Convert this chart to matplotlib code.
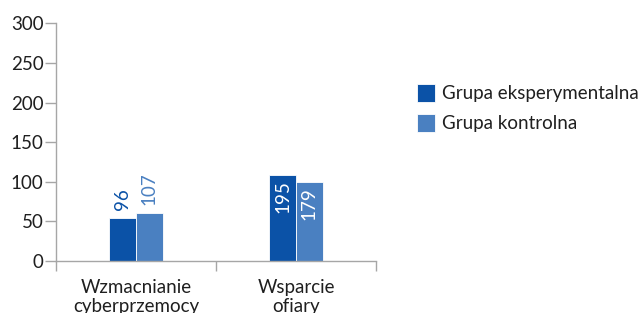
import numpy as np
import matplotlib
matplotlib.use('Agg')
import matplotlib.pyplot as plt

# Data
categories  = ['Wzmacnianie\ncyberprzemocy', 'Wsparcie\nofiary']
series      = ['Grupa eksperymentalna', 'Grupa kontrolna']
heights_exp = [54, 109]
heights_ctl = [60, 100]
labels_exp  = ['96', '195']
labels_ctl  = ['107', '179']
yticks      = [0, 50, 100, 150, 200, 250, 300]

dark  = '#0B52A7'
light = '#4A80C1'
grey  = '#A6A6A6'
txt   = '#1F1F1F'
fs    = 13.5

plt.rcParams['font.family'] = ['Lato', 'DejaVu Sans']

fig = plt.figure(figsize=(6.43, 3.13), dpi=100)
ax  = fig.add_axes([0.0871, 0.166, 0.4977, 0.7596])

x = np.arange(len(categories)) + 0.5
w = 0.166
b1 = ax.bar(x - w/2, heights_exp, w, color=dark, edgecolor='white', linewidth=0.6, label=series[0])
b2 = ax.bar(x + w/2, heights_ctl, w, color=light, edgecolor='white', linewidth=0.6, label=series[1])

# value labels: short bars get them above, tall bars inside in white
for bars, labs, col in [(b1, labels_exp, dark), (b2, labels_ctl, light)]:
    for rect, lab in zip(bars, labs):
        cx = rect.get_x() + rect.get_width()/2
        h  = rect.get_height()
        if h < 80:
            ax.annotate(lab, (cx, h), xytext=(0, 6), textcoords='offset points',
                        rotation=90, ha='center', va='bottom', color=col, fontsize=fs)
        else:
            ax.annotate(lab, (cx, h), xytext=(0, -4), textcoords='offset points',
                        rotation=90, ha='center', va='top', color='white', fontsize=fs)

ax.set_xlim(0, len(categories))
ax.set_ylim(0, 300)
ax.set_yticks(yticks)
ax.set_xticks(np.arange(len(categories)+1))
ax.set_xticklabels([])
ax.set_xticks(x, minor=True)
ax.set_xticklabels(categories, minor=True, fontsize=fs, color=txt, linespacing=1.12)
ax.tick_params(axis='x', which='minor', length=0, pad=13)
ax.tick_params(axis='x', which='major', length=7, color=grey, width=1)
ax.tick_params(axis='y', length=8, color=grey, width=1, labelsize=fs, labelcolor=txt, pad=1)

for s in ['top', 'right']:
    ax.spines[s].set_visible(False)
for s in ['left', 'bottom']:
    ax.spines[s].set_color(grey)
    ax.spines[s].set_linewidth(1)

leg = fig.legend(handles=[b1, b2], labels=series, loc='upper left', bbox_to_anchor=(0.648, 0.732),
                 frameon=False, fontsize=fs, handlelength=1.0, handleheight=1.1,
                 handletextpad=0.37, labelspacing=0.62, borderaxespad=0, borderpad=0)
for t in leg.get_texts():
    t.set_color(txt)

plt.savefig('out.png', dpi=100)
